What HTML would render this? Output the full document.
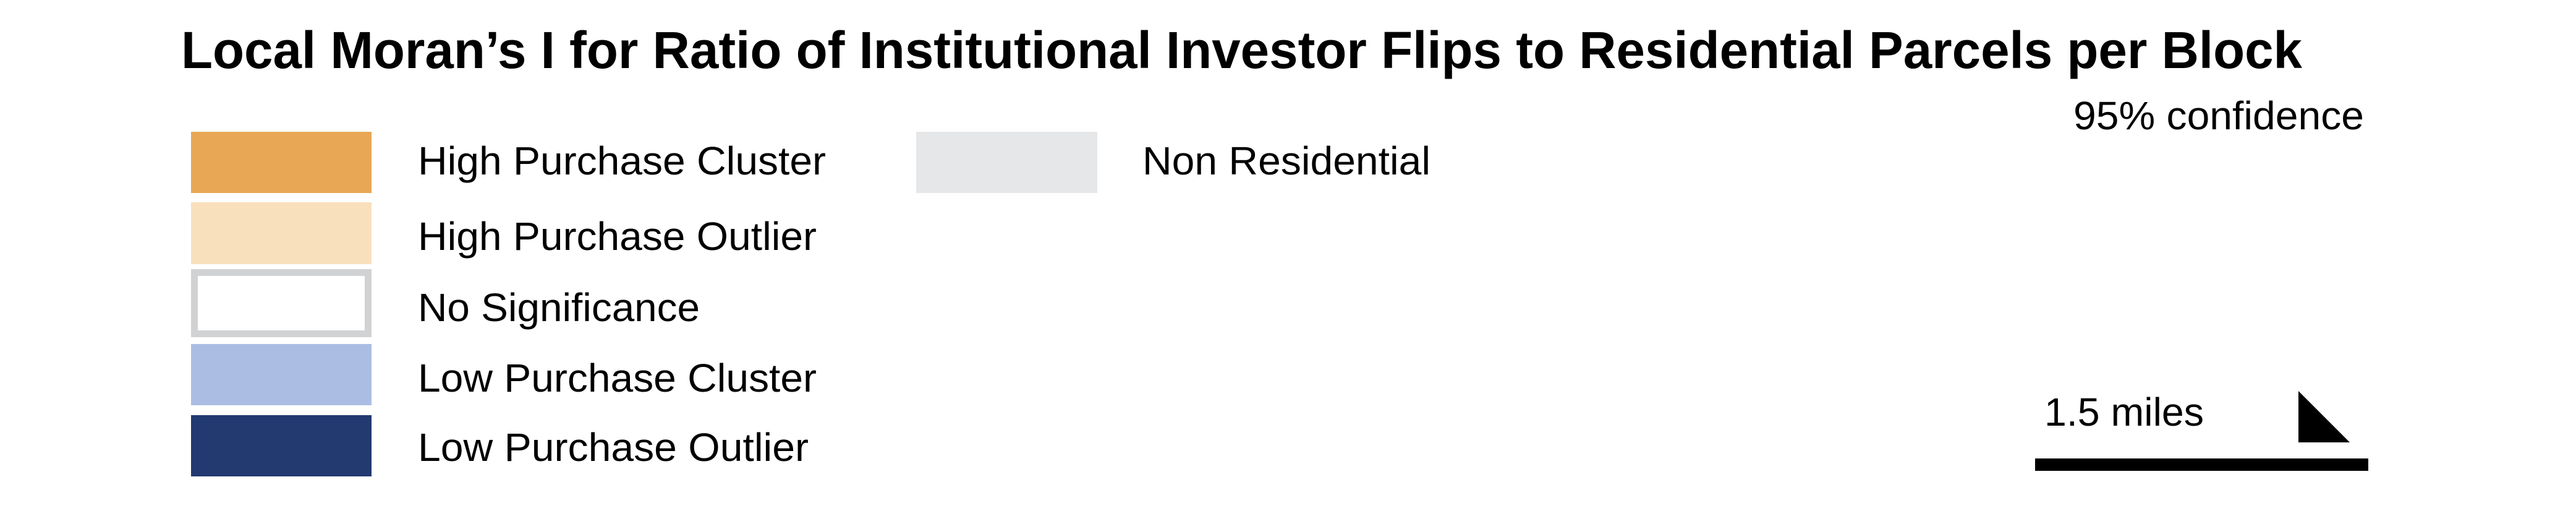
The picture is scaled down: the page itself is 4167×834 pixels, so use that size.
<!DOCTYPE html>
<html><head><meta charset="utf-8"><style>html,body{margin:0;padding:0;background:#fff}svg{display:block}</style></head>
<body>
<svg width="4167" height="834" viewBox="0 0 4167 834" xmlns="http://www.w3.org/2000/svg" font-family="Liberation Sans, Arial, sans-serif">
<text x="293" y="110" font-size="84" font-weight="bold" textLength="3431" lengthAdjust="spacingAndGlyphs">Local Moran’s I for Ratio of Institutional Investor Flips to Residential Parcels per Block</text>
<g>
<rect x="309" y="213" width="292" height="99" fill="#e7a755"/>
<text x="676" y="282" font-size="64" textLength="660" lengthAdjust="spacingAndGlyphs">High Purchase Cluster</text>
<rect x="309" y="327" width="292" height="100" fill="#f9e0bd"/>
<text x="676" y="404" font-size="64" textLength="645" lengthAdjust="spacingAndGlyphs">High Purchase Outlier</text>
<rect x="314.5" y="440.5" width="281" height="99" fill="#fff" stroke="#d1d2d4" stroke-width="11"/>
<text x="676" y="519" font-size="64" textLength="456" lengthAdjust="spacingAndGlyphs">No Significance</text>
<rect x="309" y="556" width="292" height="99" fill="#abbde3"/>
<text x="676" y="633" font-size="64" textLength="645" lengthAdjust="spacingAndGlyphs">Low Purchase Cluster</text>
<rect x="309" y="671" width="292" height="99" fill="#233a71"/>
<text x="676" y="745" font-size="64" textLength="632" lengthAdjust="spacingAndGlyphs">Low Purchase Outlier</text>
<rect x="1482" y="213" width="293" height="99" fill="#e6e7e8"/>
<text x="1848" y="282" font-size="64" textLength="466" lengthAdjust="spacingAndGlyphs">Non Residential</text>
</g>
<text x="3354" y="209" font-size="64" textLength="470" lengthAdjust="spacingAndGlyphs">95% confidence</text>
<g>
<text x="3307" y="688" font-size="64" textLength="258" lengthAdjust="spacingAndGlyphs">1.5 miles</text>
<rect x="3292" y="741" width="539" height="20" fill="#000"/>
</g>
<polygon points="3718,632 3718,715 3801,715" fill="#000"/>
</svg>
</body></html>
